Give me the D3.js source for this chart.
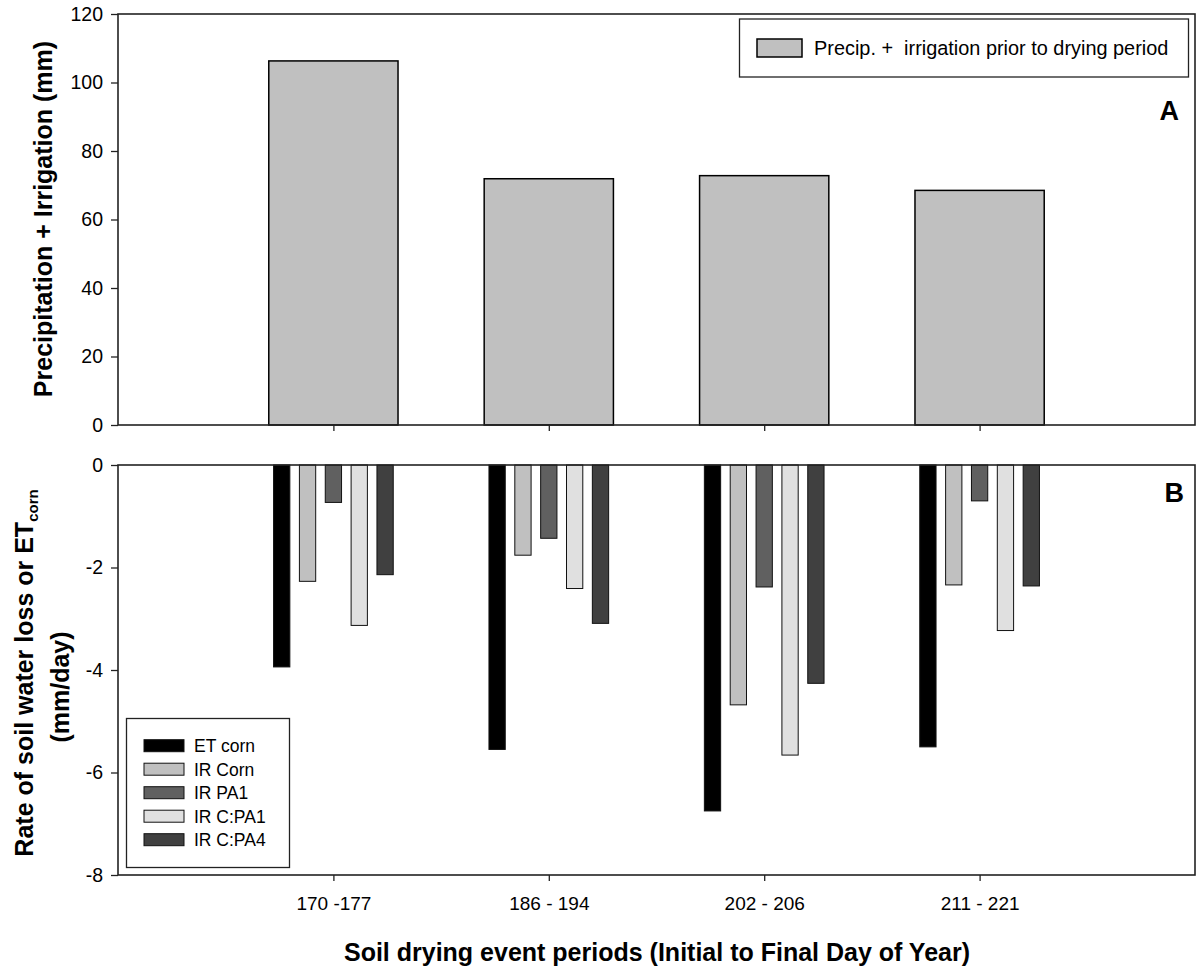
<!DOCTYPE html>
<html>
<head>
<meta charset="utf-8">
<script src="https://cdn.jsdelivr.net/npm/d3@7/dist/d3.min.js"></script>
<style>
  html, body { margin: 0; padding: 0; background: #fff; }
  svg { display: block; font-family: "Liberation Sans", Arial, sans-serif; }
</style>
</head>
<body>
<svg id="chart" width="1196" height="971"></svg>
<script>
// Soil drying event periods (initial to final day of year)
const periods = ["170 -177", "186 - 194", "202 - 206", "211 - 221"];

// Panel A: precipitation + irrigation before each drying period (mm)
const precipIrrigation = [106.3, 71.9, 72.8, 68.5];

// Panel B: rate of soil water loss or ET corn (mm/day)
const seriesNames = ["ET corn", "IR Corn", "IR PA1", "IR C:PA1", "IR C:PA4"];
const etCorn = [-3.94, -5.55, -6.75, -5.50];
const irCorn = [-2.27, -1.76, -4.68, -2.34];
const irPA1  = [-0.73, -1.43, -2.38, -0.70];
const irCPA1 = [-3.13, -2.41, -5.66, -3.23];
const irCPA4 = [-2.14, -3.09, -4.26, -2.36];

// Axis tick values
const ticksA = [0, 20, 40, 60, 80, 100, 120];
const ticksB = [0, -2, -4, -6, -8];

const seriesValues = [etCorn, irCorn, irPA1, irCPA1, irCPA4];
const seriesFill = ["#000000", "#c0c0c0", "#606060", "#e0e0e0", "#404040"];

const svg = d3.select("#chart");
const left = 118, right = 1195;
const frameColor = "#222";
const plainNumber = d => String(d);   // hyphen-minus, as printed on the axes

const x = d3.scalePoint().domain(periods).range([left, right]).padding(1);
const groupWidth = x.step() * 0.6;

const yA = d3.scaleLinear().domain([0, 120]).range([425, 14]);
const yB = d3.scaleLinear().domain([-8, 0]).range([875, 465]);

const inner = d3.scaleBand().domain(seriesNames)
  .range([-groupWidth / 2, groupWidth / 2])
  .paddingInner(0.37).paddingOuter(0.185);

function styleAxis(g, fontSize) {
  g.select(".domain").remove();
  g.selectAll(".tick line").attr("stroke", frameColor).attr("stroke-width", 1.3);
  g.selectAll(".tick text").attr("fill", "#000")
    .style("font-size", fontSize + "px")
    .style("font-family", '"Liberation Sans", Arial, sans-serif');
}

function frame(y0, y1) {
  svg.append("rect")
    .attr("x", left).attr("y", y0)
    .attr("width", right - left).attr("height", y1 - y0)
    .attr("fill", "none").attr("stroke", frameColor).attr("stroke-width", 1.6);
}

// ---------- Panel A ----------
svg.append("g").selectAll("rect")
  .data(precipIrrigation)
  .join("rect")
  .attr("x", (d, i) => x(periods[i]) - groupWidth / 2)
  .attr("y", d => yA(d))
  .attr("width", groupWidth)
  .attr("height", d => yA(0) - yA(d))
  .attr("fill", "#c0c0c0")
  .attr("stroke", "#000").attr("stroke-width", 1.5);

frame(yA(120), yA(0));

svg.append("g")
  .attr("transform", `translate(${left},0)`)
  .call(d3.axisLeft(yA).tickValues(ticksA).tickFormat(plainNumber).tickSize(7).tickPadding(8))
  .call(g => styleAxis(g, 19.5));

svg.append("g")
  .attr("transform", `translate(0,${yA(0)})`)
  .call(d3.axisBottom(x).tickSize(6).tickFormat(""))
  .call(g => styleAxis(g, 19));

// Panel A legend
const legA = svg.append("g");
legA.append("rect").attr("x", 739.5).attr("y", 19).attr("width", 449).attr("height", 58)
  .attr("fill", "#fff").attr("stroke", frameColor).attr("stroke-width", 1.3);
legA.append("rect").attr("x", 757).attr("y", 39).attr("width", 45).attr("height", 18)
  .attr("fill", "#c0c0c0").attr("stroke", "#000").attr("stroke-width", 1.5);
legA.append("text").attr("x", 814).attr("y", 55)
  .style("font-size", "19.9px").attr("fill", "#000")
  .attr("xml:space", "preserve")
  .text("Precip. +  irrigation prior to drying period");

svg.append("text").attr("x", 1179).attr("y", 120)
  .attr("text-anchor", "end").style("font-size", "27px").style("font-weight", "bold")
  .text("A");

svg.append("text")
  .attr("transform", `translate(52,219) rotate(-90)`)
  .attr("text-anchor", "middle")
  .style("font-size", "25px").style("font-weight", "bold")
  .text("Precipitation + Irrigation (mm)");

// ---------- Panel B ----------
const groups = svg.append("g").selectAll("g")
  .data(periods)
  .join("g")
  .attr("transform", p => `translate(${x(p)},0)`);

groups.selectAll("rect")
  .data((p, i) => seriesNames.map((s, k) => ({ s, k, v: seriesValues[k][i] })))
  .join("rect")
  .attr("x", d => inner(d.s))
  .attr("y", yB(0))
  .attr("width", inner.bandwidth())
  .attr("height", d => yB(d.v) - yB(0))
  .attr("fill", d => seriesFill[d.k])
  .attr("stroke", "#111").attr("stroke-width", 1);

frame(yB(0), yB(-8));

svg.append("g")
  .attr("transform", `translate(${left},0)`)
  .call(d3.axisLeft(yB).tickValues(ticksB).tickFormat(plainNumber).tickSize(7).tickPadding(8))
  .call(g => styleAxis(g, 19.5));

svg.append("g")
  .attr("transform", `translate(0,${yB(-8)})`)
  .call(d3.axisBottom(x).tickSize(6).tickPadding(16))
  .call(g => styleAxis(g, 19));

svg.append("text").attr("x", 1184).attr("y", 502)
  .attr("text-anchor", "end").style("font-size", "27px").style("font-weight", "bold")
  .text("B");

// Panel B legend
const legB = svg.append("g");
legB.append("rect").attr("x", 126.5).attr("y", 718.5).attr("width", 163).attr("height", 149)
  .attr("fill", "#fff").attr("stroke", frameColor).attr("stroke-width", 1.3);
const legRows = legB.selectAll("g")
  .data(seriesNames)
  .join("g")
  .attr("transform", (d, i) => `translate(144,${745.7 + i * 23.5})`);
legRows.append("rect")
  .attr("x", 0).attr("y", -6).attr("width", 40).attr("height", 12)
  .attr("fill", (d, i) => seriesFill[i]).attr("stroke", "#111").attr("stroke-width", 1);
legRows.append("text")
  .attr("x", 50).attr("y", 6.5)
  .style("font-size", "17.5px").attr("fill", "#000")
  .text(d => d);

// Panel B y title (two lines, subscript on ET)
const tB1 = svg.append("text")
  .attr("transform", `translate(33,673) rotate(-90)`)
  .attr("text-anchor", "middle")
  .style("font-size", "25px").style("font-weight", "bold");
tB1.append("tspan").text("Rate of soil water loss or ET");
tB1.append("tspan").attr("dy", 5).style("font-size", "15px").text("corn");

svg.append("text")
  .attr("transform", `translate(68.5,687) rotate(-90)`)
  .attr("text-anchor", "middle")
  .style("font-size", "25px").style("font-weight", "bold")
  .text("(mm/day)");

// Shared x title
svg.append("text")
  .attr("x", 657).attr("y", 961)
  .attr("text-anchor", "middle")
  .style("font-size", "25px").style("font-weight", "bold")
  .text("Soil drying event periods (Initial to Final Day of Year)");
</script>
</body>
</html>
